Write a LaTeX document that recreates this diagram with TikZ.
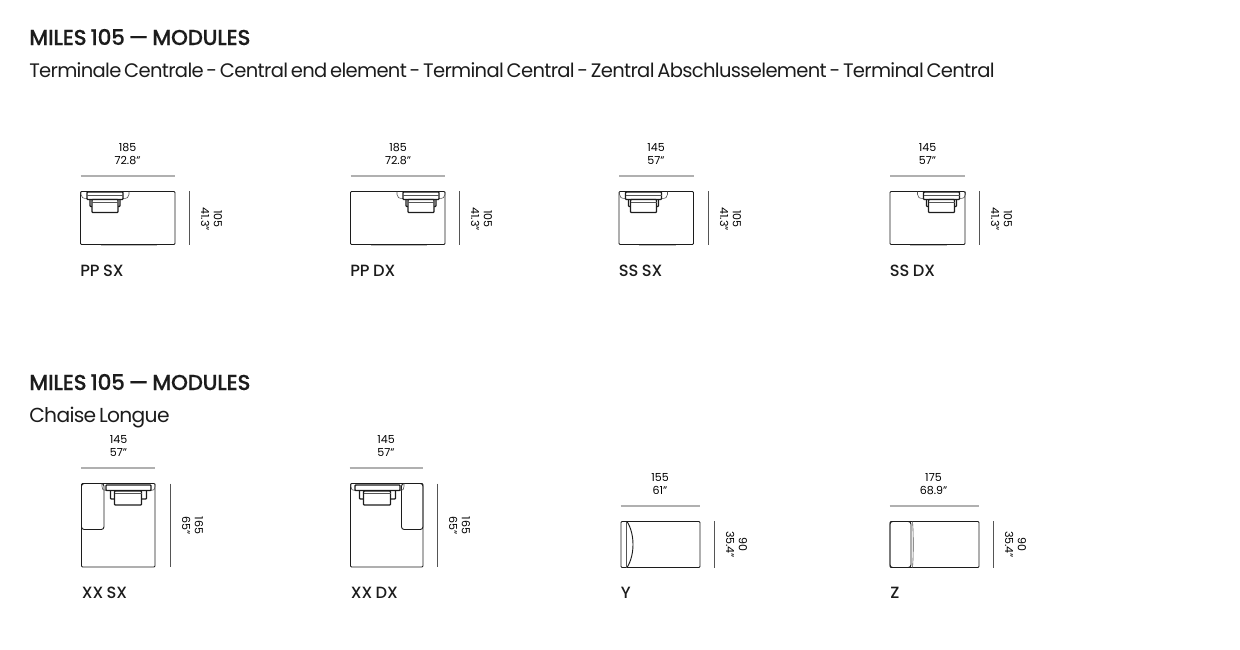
\documentclass[tikz,border=0pt]{standalone}
\usepackage{fontspec}
\setmainfont{Poppins}
\newfontfamily\headfont[LetterSpace=-1.5,WordSpace=0.7,FakeBold=0.25]{Poppins Medium}
\newfontfamily\subfont[LetterSpace=-3.4,WordSpace=0.6]{Poppins}
\newfontfamily\labelfont[WordSpace=0.8]{Poppins Medium}
\definecolor{dim-grau}{HTML}{b0b0b0}
\definecolor{ink}{HTML}{1c1c1c}
\tikzset{
    outline/.style={draw=ink, line width=0.7pt, rounded corners=0.8},
    back-line/.style={draw=ink, line width=1pt, rounded corners=0.6},
    thin-line/.style={draw=ink!75, line width=0.45pt},
    pale-line/.style={draw=ink!30, line width=0.6pt},
    dim-bar/.style={draw=dim-grau, line width=1.5pt},
    dim-side/.style={draw=ink!75, line width=0.55pt},
    title/.style={anchor=base west, inner sep=0, font=\fontsize{16.2}{18}\selectfont\headfont, text=ink},
    subtitle/.style={anchor=base west, inner sep=0, font=\fontsize{14.65}{18}\selectfont\subfont, text=ink},
    dim-text/.style={align=center, inner sep=0, font=\fontsize{8.3}{9.6}\selectfont, text=black},
    code/.style={anchor=base west, inner sep=0, font=\fontsize{12.2}{13}\selectfont\labelfont, text=ink},
    pics/headrest/.style={code={
        \draw[thin-line] (-6,0) -- (-6,3) .. controls (-6,6) and (-4,7) .. (0,7);
        \draw[thin-line] (42,0) -- (42,3) .. controls (42,6) and (40,7) .. (36,7);
        \draw[back-line] (0,0.5) rectangle (36,8);
        \draw[thin-line] (0,3.5) -- (36,3.5);
        \draw[back-line] (3,8) -- (3,15) -- (33,15) -- (33,8);
        \draw[back-line, fill=white] (5,8) rectangle (31,21);
        \draw[thin-line] (5,10.5) -- (31,10.5);
    }},
    pics/headrest-wide/.style={code={
        \draw[thin-line] (-4,0) -- (-4,3) .. controls (-4,6) and (-3,7) .. (0,7);
        \draw[thin-line] (49,0) -- (49,3) .. controls (49,6) and (48,7) .. (45,7);
        \draw[back-line] (0,1.5) rectangle (45,7);
        \draw[back-line] (4.5,7) -- (4.5,15.5) -- (40.5,15.5) -- (40.5,7);
        \draw[back-line, fill=white] (8.5,7.5) rectangle (35.5,21.5);
        \draw[thin-line] (8.5,10) -- (35.5,10);
    }},
}
\begin{document}
\begin{tikzpicture}[x=0.75pt, y=-0.75pt]
    \useasboundingbox (0,0) rectangle (1240,650);

    % Titel
    \node[title] (titel-a) at (29,45) {MILES 105 — MODULES};
    \node[subtitle] (sub-a) at (29,77) {Terminale Centrale - Central end element - Terminal Central - Zentral Abschlusselement - Terminal Central};
    \node[title] (titel-b) at (29,390) {MILES 105 — MODULES};
    \node[subtitle, font=\fontsize{15.2}{18}\selectfont\subfont] (sub-b) at (29,422) {Chaise Longue};

    % obere Reihe: name / links / rechts / Kopfteil / Breite / Zoll / Massstrich / Mitte
    \foreach \name/\xl/\xr/\xh/\wtext/\wzoll/\xd/\cx in {PP SX/80.5/175/87/185/72.8"/189.5/127.5,
                                                         PP DX/350.5/445/403/185/72.8"/459.5/398,
                                                         SS SX/619/693.5/625.5/145/57"/708.5/656,
                                                         SS DX/890/965/923.5/145/57"/979.5/927.5} {
        \draw[outline] (\xl,191.5) rectangle (\xr,244.5);
        \draw[pale-line] (\xl+20,245.3) -- (\xr-18,245.3);
        \pic at (\xh,191.5) {headrest};
        \draw[dim-bar] (\xl,176.2) -- (\xr,176.2);
        \draw[dim-side] (\xd,191) -- (\xd,245);
        \node[dim-text] at (\cx,154) {\wtext\\\wzoll};
        \node[dim-text, rotate=-90] at (\xd+22,219) {105\\41.3"};
        \node[code] at (\xl-0.5,276.5) {\name};
    }

    % Chaise Longue links
    \draw[outline] (81.5,483.5) rectangle (155,567);
    \draw[outline, rounded corners=2] (81.5,483.5) rectangle (104,529.5);
    \pic at (106,483.5) {headrest-wide};
    \draw[dim-bar] (81,467.5) -- (155,467.5);
    \draw[dim-side] (170.5,483.5) -- (170.5,567);
    \node[dim-text] at (118.5,446) {145\\57"};
    \node[dim-text, rotate=-90] at (192.5,525.5) {165\\65"};
    \node[code] at (81.5,598.5) {XX SX};

    % Chaise Longue rechts
    \draw[outline] (350.5,483.5) rectangle (423,567);
    \draw[outline, rounded corners=2] (401.5,483.5) rectangle (423,529.5);
    \pic at (355,483.5) {headrest-wide};
    \draw[dim-bar] (349.5,467.5) -- (422.5,467.5);
    \draw[dim-side] (437.5,483.5) -- (437.5,567);
    \node[dim-text] at (386,446) {145\\57"};
    \node[dim-text, rotate=-90] at (459.5,525.5) {165\\65"};
    \node[code] at (350.5,598.5) {XX DX};

    % Y
    \draw[outline] (621,521.5) rectangle (700,567.5);
    \draw[outline] (627,521.5) .. controls (635,534) and (635,555) .. (627,567.5);
    \draw[thin-line] (626,521.5) -- (626,567.5);
    \draw[dim-bar] (620.5,506) -- (700,506);
    \draw[dim-side] (714,521) -- (714,568);
    \node[dim-text] at (660,484) {155\\61"};
    \node[dim-text, rotate=-90] at (736.5,544.5) {90\\35.4"};
    \node[code] at (620.5,598.5) {Y};

    % Z
    \draw[outline] (890,521.5) rectangle (979,567.5);
    \draw[outline, rounded corners=2] (890,521.5) rectangle (911,567.5);
    \draw[thin-line] (912.5,521.5) .. controls (913.5,532) and (913.5,557) .. (912.5,567.5);
    \draw[dim-bar] (889.5,506) -- (978.5,506);
    \draw[dim-side] (993,521) -- (993,568);
    \node[dim-text] at (933.5,484) {175\\68.9"};
    \node[dim-text, rotate=-90] at (1015.5,544.5) {90\\35.4"};
    \node[code] at (890,598.5) {Z};
\end{tikzpicture}
\end{document}
